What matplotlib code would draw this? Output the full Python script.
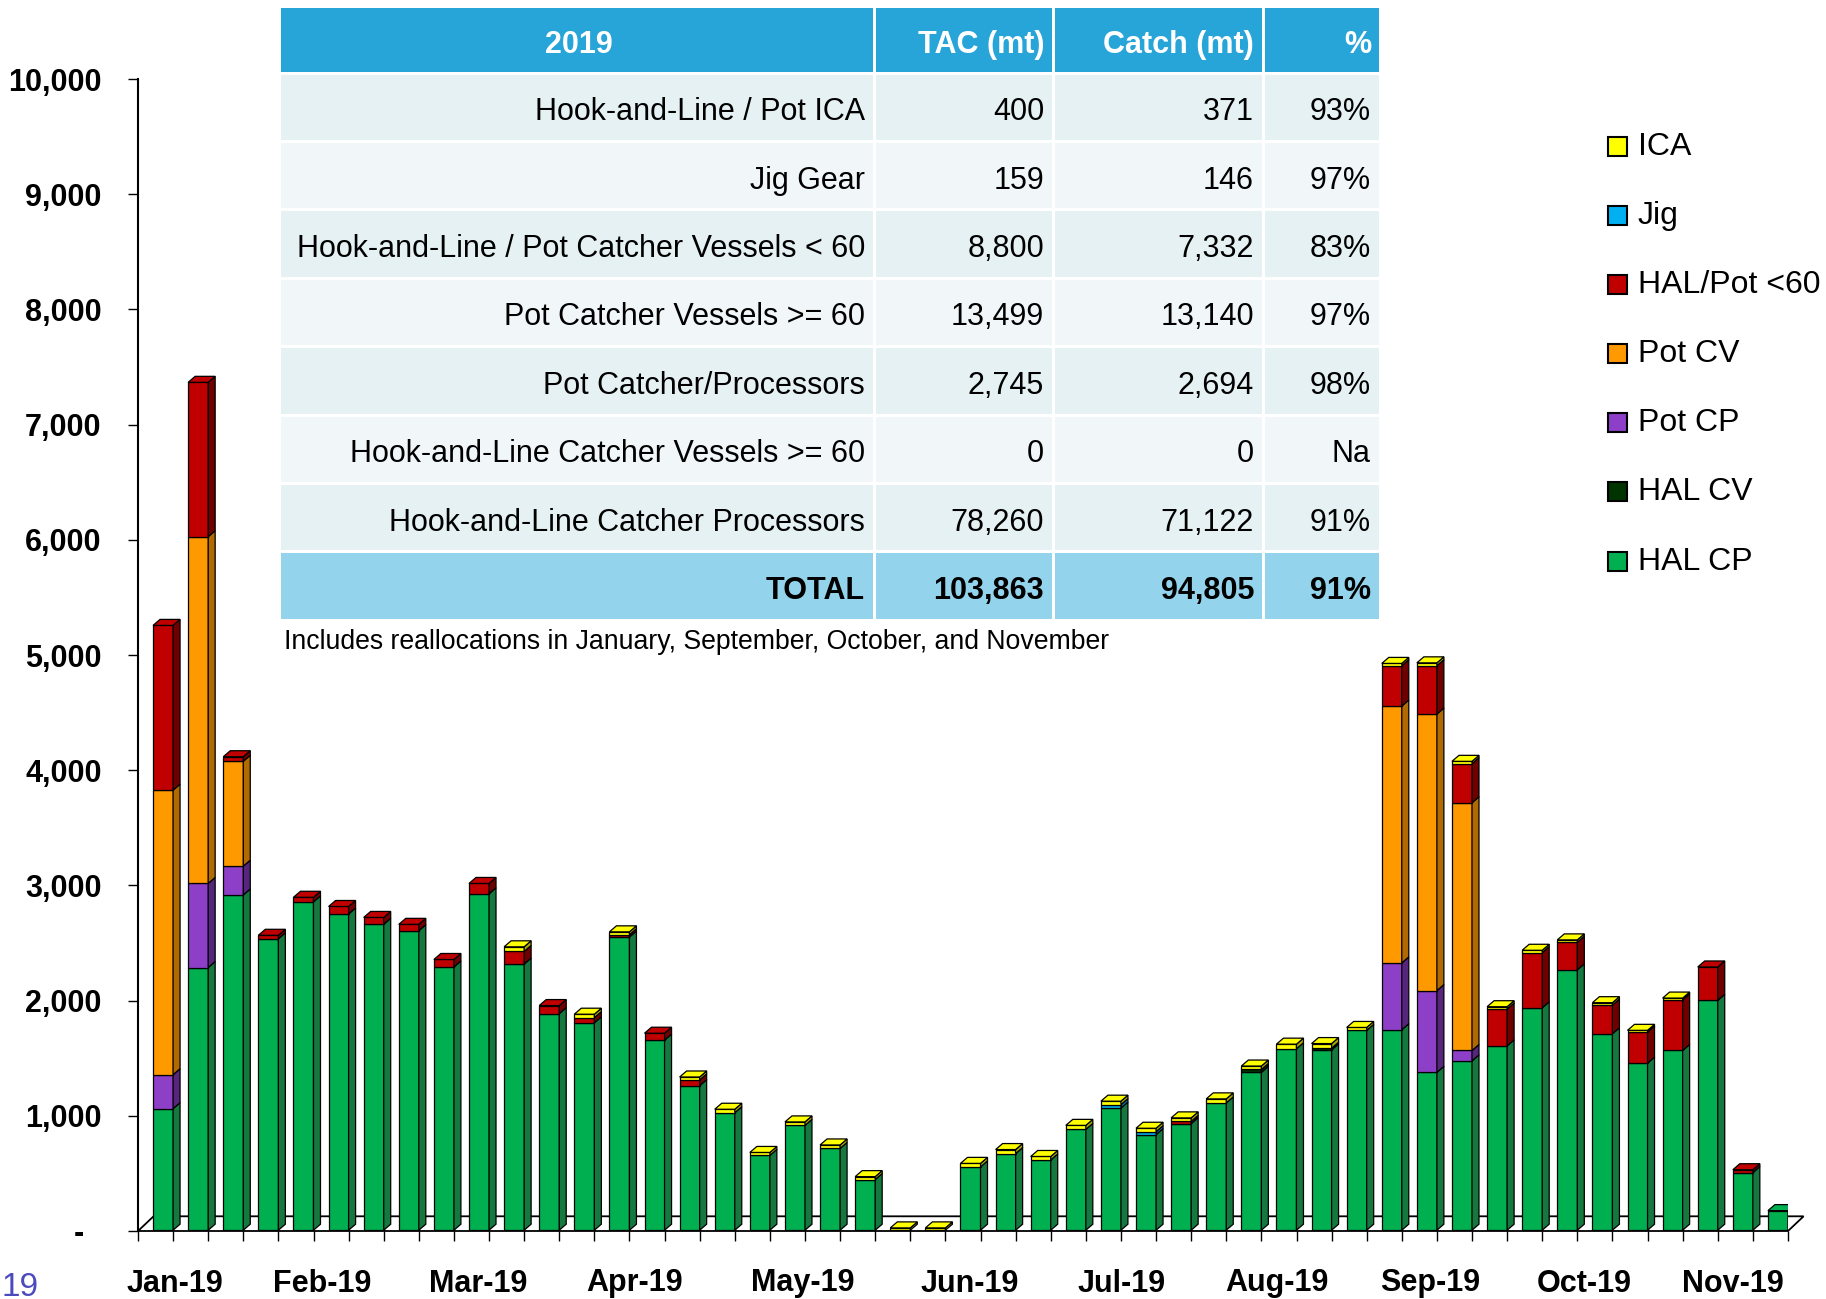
import matplotlib
matplotlib.use("Agg")
import matplotlib.pyplot as plt
import matplotlib.transforms as mtransforms
from matplotlib.patches import Polygon, Rectangle
from matplotlib import font_manager
import numpy as np

W, H = 1826, 1299

# weekly catch (mt) by sector, stacked bottom -> top
hal_cp = [1055, 2280, 2910, 2530, 2850, 2745, 2655, 2600, 2285, 2920,
          2310, 1880, 1800, 2545, 1650, 1255, 1020, 650, 910, 710,
          440, 0, 0, 550, 665, 610, 875, 1060, 830, 925,
          1105, 1370, 1575, 1565, 1735, 1740, 1370, 1470, 1600, 1930,
          2260, 1705, 1450, 1560, 1995, 500, 170]
hal_cv = [0, 0, 0, 0, 0, 0, 0, 0, 0, 0,
          0, 0, 0, 0, 0, 0, 0, 0, 0, 0,
          0, 0, 0, 0, 0, 0, 0, 0, 0, 0,
          0, 25, 0, 15, 0, 0, 0, 0, 0, 0,
          0, 0, 0, 0, 0, 0, 0]
pot_cp = [295, 730, 250, 0, 0, 0, 0, 0, 0, 0,
          0, 0, 0, 0, 0, 0, 0, 0, 0, 0,
          0, 0, 0, 0, 0, 0, 0, 0, 0, 0,
          0, 0, 0, 0, 0, 580, 710, 90, 0, 0,
          0, 0, 0, 0, 0, 0, 0]
pot_cv = [2470, 3010, 910, 0, 0, 0, 0, 0, 0, 0,
          0, 0, 0, 0, 0, 0, 0, 0, 0, 0,
          0, 0, 0, 0, 0, 0, 0, 0, 0, 0,
          0, 0, 0, 0, 0, 2230, 2400, 2150, 0, 0,
          0, 0, 0, 0, 0, 0, 0]
hal_pot60 = [1430, 1340, 40, 30, 40, 65, 60, 55, 65, 90,
             110, 70, 45, 20, 60, 50, 0, 0, 0, 0,
             0, 0, 0, 0, 0, 0, 0, 0, 0, 20,
             0, 0, 0, 0, 0, 350, 420, 340, 320, 480,
             240, 250, 270, 440, 290, 25, 0]
jig = [0, 0, 0, 0, 0, 0, 0, 0, 0, 0,
       0, 0, 0, 0, 0, 0, 0, 0, 0, 0,
       0, 0, 0, 0, 0, 0, 0, 30, 25, 0,
       0, 0, 0, 0, 0, 0, 0, 0, 0, 0,
       0, 0, 0, 0, 0, 0, 0]
ica = [0, 0, 0, 0, 0, 0, 0, 0, 0, 0,
       40, 0, 30, 25, 0, 25, 30, 25, 30, 30,
       25, 20, 20, 30, 35, 30, 35, 30, 30, 30,
       35, 30, 40, 40, 25, 20, 25, 20, 20, 20,
       20, 20, 15, 15, 0, 0, 0]

month_labels = ["Jan-19", "Feb-19", "Mar-19", "Apr-19", "May-19", "Jun-19",
                "Jul-19", "Aug-19", "Sep-19", "Oct-19", "Nov-19"]
month_ticks = [0.55, 4.76, 9.2, 13.65, 18.43, 23.2, 27.52, 31.93, 36.31, 40.69, 44.94]

# summary table
tab_header = ["2019", "TAC (mt)", "Catch (mt)", "%"]
tab_sectors = ["Hook-and-Line / Pot ICA", "Jig Gear",
               "Hook-and-Line / Pot Catcher Vessels < 60",
               "Pot Catcher Vessels >= 60", "Pot Catcher/Processors",
               "Hook-and-Line Catcher Vessels >= 60",
               "Hook-and-Line Catcher Processors"]
tab_tac = ["400", "159", "8,800", "13,499", "2,745", "0", "78,260"]
tab_catch = ["371", "146", "7,332", "13,140", "2,694", "0", "71,122"]
tab_pct = ["93%", "97%", "83%", "97%", "98%", "Na", "91%"]
tab_total = ["TOTAL", "103,863", "94,805", "91%"]

series = [
    ("HAL CP", hal_cp, "#00B050", "#14783F"),
    ("HAL CV", hal_cv, "#003300", "#001A00"),
    ("Pot CP", pot_cp, "#8E3FC7", "#56267C"),
    ("Pot CV", pot_cv, "#FF9900", "#B06A00"),
    ("HAL/Pot <60", hal_pot60, "#C00000", "#700000"),
    ("Jig", jig, "#00B0F0", "#0077A6"),
    ("ICA", ica, "#FFFF00", "#A8A800"),
]

names = {f.name for f in font_manager.fontManager.ttflist}
narrow = "Liberation Sans Narrow" in names
plt.rcParams["font.family"] = ["Liberation Sans", "DejaVu Sans"]

fig = plt.figure(figsize=(W / 100, H / 100), dpi=100)
n = len(hal_cp)
ax = fig.add_axes([138 / W, (H - 1231) / H, 1650 / W, 1152 / H])
ax.set_xlim(-0.5, n - 0.5)
ax.set_ylim(0, 10000)

px_x = 1650 / n          # pixels per category
px_y = 1152 / 10000      # pixels per mt

# floor of the 3-D plot
fdx, fdy = 15.6 / px_x, 14.7 / px_y
floor = Polygon([(-0.5, 0), (n - 0.5, 0), (n - 0.5 + fdx, fdy), (-0.5 + fdx, fdy)],
                closed=True, facecolor="white", edgecolor="black", lw=1.3,
                clip_on=False, zorder=1)
ax.add_patch(floor)

# bars sit a bit back on the floor
shift = mtransforms.ScaledTranslation(7.5 / 100, 0.8 / 100, fig.dpi_scale_trans)
tf = ax.transData + shift
bw = 0.57
ddx, ddy = 7 / px_x, 6 / px_y

x = np.arange(n)
bottom = np.zeros(n)
top_color = [None] * n
for name, vals, col, side in series:
    vals = np.array(vals, dtype=float)
    for i in range(n):
        h = vals[i]
        if h <= 0:
            continue
        b = bottom[i]
        ax.add_patch(Rectangle((i - bw / 2, b), bw, h, facecolor=col,
                               edgecolor="black", lw=0.9, transform=tf, zorder=3))
        xr = i + bw / 2
        ax.add_patch(Polygon([(xr, b), (xr + ddx, b + ddy), (xr + ddx, b + h + ddy), (xr, b + h)],
                             closed=True, facecolor=side, edgecolor="black", lw=0.9,
                             transform=tf, zorder=3))
        top_color[i] = col
    bottom += vals

for i in range(n):
    if top_color[i] is None:
        continue
    t = bottom[i]
    ax.add_patch(Polygon([(i - bw / 2, t), (i - bw / 2 + ddx, t + ddy),
                          (i + bw / 2 + ddx, t + ddy), (i + bw / 2, t)],
                         closed=True, facecolor=top_color[i], edgecolor="black", lw=0.9,
                         transform=tf, zorder=4))

for s in ["top", "right", "bottom"]:
    ax.spines[s].set_visible(False)
ax.spines["left"].set_linewidth(1.5)
ax.set_yticks(np.arange(0, 10001, 1000))
ax.set_yticklabels(["-  " if v == 0 else f"{v:,}" for v in range(0, 10001, 1000)],
                   fontsize=22, fontweight="bold")
ax.tick_params(axis="y", length=7.2, width=1, pad=19, direction="out")
ax.set_xticks(month_ticks)
ax.set_xticklabels(month_labels, fontsize=22, fontweight="bold")
ax.set_xticks(np.arange(-0.5, n, 1), minor=True)
ax.tick_params(axis="x", which="major", length=0, pad=27)
ax.tick_params(axis="x", which="minor", length=7.2, width=1, direction="out")

# overlay in pixel coordinates for table, legend and notes
ov = fig.add_axes([0, 0, 1, 1])
ov.set_xlim(0, W)
ov.set_ylim(H, 0)
ov.axis("off")
ov.patch.set_alpha(0)

cols = [281, 876, 1055, 1265, 1382]
gap = 3
hdr_top, hdr_bot = 8, 72
row0, row_h = 74.5, 68.4
txt_dy = 5
for c in range(4):
    ov.add_patch(Rectangle((cols[c], hdr_top), cols[c + 1] - cols[c] - gap,
                           hdr_bot - hdr_top, facecolor="#28A5D8", edgecolor="none"))
    if c == 0:
        ov.text((cols[0] + cols[1]) / 2, (hdr_top + hdr_bot) / 2 + txt_dy, tab_header[c],
                ha="center", va="center", color="white", fontsize=22, fontweight="bold")
    else:
        ov.text(cols[c + 1] - gap - 8, (hdr_top + hdr_bot) / 2 + txt_dy, tab_header[c],
                ha="right", va="center", color="white", fontsize=22, fontweight="bold")

rows = list(zip(tab_sectors, tab_tac, tab_catch, tab_pct)) + [tuple(tab_total)]
for r, cells in enumerate(rows):
    y0 = row0 + r * row_h
    total = r == len(rows) - 1
    fc = "#93D3EC" if total else ("#E5F1F3" if r % 2 == 0 else "#F1F7F9")
    for c in range(4):
        ov.add_patch(Rectangle((cols[c], y0), cols[c + 1] - cols[c] - gap,
                               row_h - gap, facecolor=fc, edgecolor="none"))
        ov.text(cols[c + 1] - gap - 8, y0 + (row_h - gap) / 2 + txt_dy, cells[c],
                ha="right", va="center", color="black", fontsize=22,
                fontweight="bold" if total else "normal")

ov.text(284, 642, "Includes reallocations in January, September, October, and November",
        ha="left", va="center", fontsize=19.2, color="black")

# legend, top to bottom
leg_y = [146, 215, 284, 353, 422, 491, 561]
leg_items = list(reversed(series))
if narrow:
    leg_font = dict(family="Liberation Sans Narrow", fontsize=27)
else:
    leg_font = dict(fontsize=23)
for (name, vals, col, side), yy in zip(leg_items, leg_y):
    ov.add_patch(Rectangle((1608, yy - 9.5), 19, 19, facecolor=col,
                           edgecolor="black", lw=1.5))
    ov.text(1638, yy + 1, name, ha="left", va="center", color="black", **leg_font)

ov.text(2, 1287, "19", ha="left", va="center", fontsize=24, color="#4B4BBE")

fig.savefig("out.png", dpi=100)
